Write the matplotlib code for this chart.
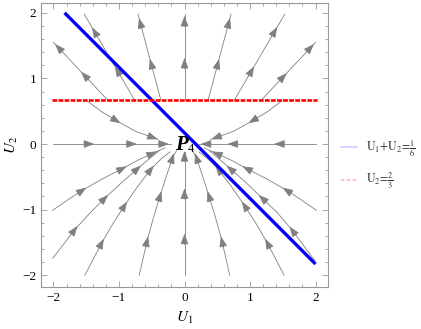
import matplotlib
matplotlib.use('Agg')
import matplotlib.pyplot as plt
import numpy as np
from matplotlib.lines import Line2D
from matplotlib.ticker import MultipleLocator

plt.rcParams['font.family'] = ['Liberation Serif', 'DejaVu Serif']
plt.rcParams['mathtext.fontset'] = 'stix'

# streamlines, listed in flow direction: (points, arrow spots)
streams = [
    # above U2 = 2/3, flowing away from the red line
    ([(-0.76, 0.667), (-1.53, 1.98)], [(-1.03, 1.13), (-1.40, 1.71)]),
    ([(-1.17, 0.667), (-2.00, 1.55)], [(-1.55, 1.04), (-1.93, 1.48)]),
    ([(-0.36, 0.667), (-0.71, 1.98)], [(-0.50, 1.24), (-0.68, 1.86)]),
    ([(0.0, 0.667), (0.0, 1.98)], [(0.0, 1.25), (0.0, 1.89)]),
    ([(0.36, 0.667), (0.71, 1.98)], [(0.50, 1.24), (0.68, 1.86)]),
    ([(0.76, 0.667), (1.53, 1.98)], [(1.03, 1.13), (1.40, 1.72)]),
    ([(1.17, 0.667), (2.00, 1.55)], [(1.50, 1.05), (1.93, 1.48)]),
    # between the red line and P4
    ([(-1.49, 0.66), (-1.26, 0.49), (-1.03, 0.35), (-0.74, 0.19), (-0.40, 0.07)],
     [(-1.03, 0.35), (-0.47, 0.09)]),
    ([(1.49, 0.66), (1.26, 0.49), (1.03, 0.35), (0.74, 0.19), (0.40, 0.07)],
     [(1.03, 0.35), (0.47, 0.09)]),
    # along U2 = 0
    ([(-2.0, 0.0), (-0.2, 0.0)], [(-1.44, 0.0), (-0.79, 0.0), (-0.30, 0.0)]),
    ([(2.0, 0.0), (0.22, 0.0)], [(1.43, 0.0), (0.72, 0.0), (0.31, 0.0)]),
    # lower left
    ([(-2.01, -1.01), (-1.78, -0.85), (-1.55, -0.70), (-1.25, -0.53), (-0.94, -0.37),
      (-0.70, -0.24), (-0.48, -0.14), (-0.30, -0.06)],
     [(-1.55, -0.70), (-0.94, -0.37), (-0.48, -0.14)]),
    ([(-2.01, -1.74), (-1.67, -1.30), (-1.44, -1.05), (-1.21, -0.82), (-0.95, -0.58),
      (-0.71, -0.37), (-0.52, -0.21), (-0.38, -0.10)],
     [(-1.67, -1.30), (-1.21, -0.82), (-0.71, -0.37)]),
    ([(-1.52, -2.0), (-1.26, -1.50), (-1.09, -1.21), (-0.91, -0.93), (-0.71, -0.64),
      (-0.51, -0.38), (-0.35, -0.22), (-0.22, -0.12)],
     [(-1.26, -1.50), (-0.91, -0.93), (-0.51, -0.38)]),
    ([(-0.69, -2.0), (-0.57, -1.47), (-0.47, -1.11), (-0.37, -0.78), (-0.27, -0.47),
      (-0.18, -0.20), (-0.12, -0.10)],
     [(-0.57, -1.47), (-0.37, -0.78), (-0.18, -0.20)]),
    ([(0.0, -2.0), (0.0, -0.12)], [(0.0, -1.43), (0.0, -0.74), (0.0, -0.17)]),
    # lower right
    ([(0.69, -2.0), (0.57, -1.47), (0.47, -1.11), (0.37, -0.78), (0.27, -0.47),
      (0.18, -0.20), (0.12, -0.10)],
     [(0.57, -1.47), (0.37, -0.78), (0.18, -0.20)]),
    ([(1.52, -2.0), (1.26, -1.50), (1.09, -1.21), (0.91, -0.93), (0.71, -0.64),
      (0.51, -0.38), (0.35, -0.22), (0.22, -0.12)],
     [(1.26, -1.50), (0.91, -0.93), (0.51, -0.38)]),
    ([(1.99, -1.78), (1.64, -1.31), (1.42, -1.05), (1.18, -0.82), (0.93, -0.58),
      (0.69, -0.37), (0.52, -0.22), (0.38, -0.10)],
     [(1.64, -1.31), (1.18, -0.82), (0.69, -0.37)]),
    ([(2.01, -1.01), (1.78, -0.85), (1.55, -0.70), (1.25, -0.53), (0.94, -0.37),
      (0.70, -0.24), (0.48, -0.14), (0.30, -0.06)],
     [(1.55, -0.70), (0.94, -0.37), (0.48, -0.14)]),
]

u1_blue = [-1.83, 2.0]
u2_blue = [2.0, -1.83]
u1_red = [-2.02, 2.02]
u2_red = [2 / 3, 2 / 3]

xticks = [-2, -1, 0, 1, 2]
xticklabels = ['\u22122', '\u22121', '0', '1', '2']
legend_labels = [r'$\mathrm{U}_1\!+\!\mathrm{U}_2\!=\!\frac{1}{6}$',
                 r'$\mathrm{U}_2\!=\!\frac{2}{3}$']

gray = '#808080'


def spot_on_line(pts, q):
    # nearest point on the polyline and the local direction there
    pts = np.asarray(pts, float)
    q = np.asarray(q, float)
    best = None
    for a, b in zip(pts[:-1], pts[1:]):
        ab = b - a
        t = np.clip(np.dot(q - a, ab) / np.dot(ab, ab), 0, 1)
        p = a + t * ab
        d = np.linalg.norm(q - p)
        if best is None or d < best[0]:
            best = (d, p, ab / np.linalg.norm(ab))
    return best[1], best[2]


fig = plt.figure(figsize=(4.21, 3.29), dpi=100)
ax = fig.add_axes([41 / 421, 1 - 287 / 329, 287 / 421, 284 / 329])

for pts, arrows in streams:
    xy = np.array(pts)
    ax.plot(xy[:, 0], xy[:, 1], color=gray, lw=0.6, zorder=1)
    for q in arrows:
        p, d = spot_on_line(pts, q)
        ax.annotate('', xy=p + d * 0.065, xytext=p - d * 0.10,
                    arrowprops=dict(arrowstyle='-|>,head_length=0.65,head_width=0.24',
                                    mutation_scale=10, color=gray, lw=0.6,
                                    shrinkA=0, shrinkB=0), zorder=2)

ax.plot(u1_blue, u2_blue, color='blue', lw=2.4, solid_capstyle='butt', zorder=3)
ax.plot(u1_red, u2_red, color='red', lw=1.9, dashes=(1.8, 0.5), zorder=3)

ax.text(-0.04, -0.01, 'P', fontsize=15, fontweight='bold', fontstyle='italic',
        ha='center', va='center', zorder=4)
ax.text(0.10, -0.07, '4', fontsize=9, ha='center', va='center', zorder=4)

ax.set_xlim(-2.19, 2.19)
ax.set_ylim(-2.18, 2.15)
ax.set_xticks(xticks)
ax.set_xticklabels(xticklabels)
ax.set_yticks(xticks)
ax.set_yticklabels(xticklabels)
ax.xaxis.set_minor_locator(MultipleLocator(0.2))
ax.yaxis.set_minor_locator(MultipleLocator(0.2))
ax.tick_params(which='both', direction='in', top=True, right=True, color='#999999',
               width=0.6, labelsize=9.5)
ax.tick_params(which='major', length=4)
ax.tick_params(which='minor', length=2.2)
for s in ax.spines.values():
    s.set_color('#999999')
    s.set_linewidth(0.8)

ax.set_xlabel(r'$U_1$', fontsize=11, va='center', ha='center')
ax.set_ylabel(r'$U_2$', fontsize=11, va='center', ha='center')
ax.xaxis.set_label_coords(0.5, -0.109)
ax.yaxis.set_label_coords(-0.101, 0.5)

handles = [Line2D([], [], color='blue', alpha=0.2, lw=1.2),
           Line2D([], [], color='red', alpha=0.3, lw=1.2, dashes=(2, 1.5))]
ax.legend(handles, legend_labels, loc='center left', bbox_to_anchor=(1.045, 0.43),
          frameon=False, fontsize=8.5, handlelength=1.4, handletextpad=0.7,
          labelspacing=1.0, borderaxespad=0, borderpad=0, labelcolor='#333333')

fig.savefig('out.png', dpi=100)
